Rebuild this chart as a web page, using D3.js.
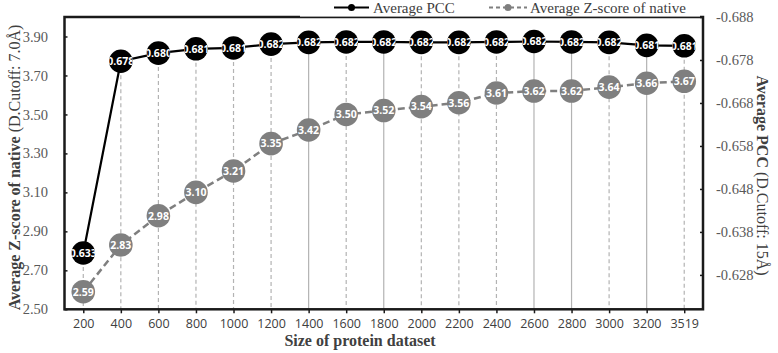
<!DOCTYPE html>
<html><head><meta charset="utf-8">
<script src="https://cdn.jsdelivr.net/npm/d3@7"></script>
<style>body{margin:0;background:#fff}svg{display:block}</style>
</head><body>
<svg id="c" width="778" height="353"></svg>
<script>
const categories = ["200","400","600","800","1000","1200","1400","1600","1800","2000","2200","2400","2600","2800","3000","3200","3519"];
const pccValues = [0.6331,0.6777,0.6796,0.6806,0.6808,0.6817,0.6821,0.6822,0.6822,0.6821,0.6821,0.6822,0.6823,0.6822,0.6821,0.6814,0.6813];
const zValues = [2.59,2.83,2.98,3.10,3.21,3.35,3.42,3.50,3.52,3.54,3.56,3.61,3.62,3.62,3.64,3.66,3.67];
const zTicks = [2.50,2.70,2.90,3.10,3.30,3.50,3.70,3.90];
const pccTicks = [0.628,0.638,0.648,0.658,0.668,0.678,0.688];
const solidDropCats = ["1400","1800","2600","2800","3200"];

const svg = d3.select("#c");
const L = 64.5, R = 703, T = 17, B = 309.3;
const x = d3.scalePoint().domain(categories).range([L, R]).padding(0.5);
const yZ = d3.scaleLinear().domain([2.5, 4.0]).range([B, T]);
const yP = d3.scaleLinear().domain([0.62, 0.688]).range([B, T]);
const serif = "'Liberation Serif','Times New Roman',serif";
const sans = "'Open Sans','DejaVu Sans',sans-serif";

// drop lines
const drops = svg.append("g");
categories.forEach((c, i) => {
  const top = Math.min(yP(pccValues[i]), yZ(zValues[i]));
  drops.append("line").attr("x1", x(c)).attr("x2", x(c)).attr("y1", top).attr("y2", B)
    .attr("stroke", "#b3b3b3").attr("stroke-width", 1.2)
    .attr("stroke-dasharray", solidDropCats.includes(c) ? null : "4,3");
});

// axes
const axisColor = "#1a1a1a";
const gL = svg.append("g").attr("transform", `translate(${L},0)`)
  .call(d3.axisRight(yZ).tickValues(zTicks).tickSize(3).tickFormat(""));
gL.select(".domain").remove();
gL.selectAll("line").attr("stroke", axisColor).attr("stroke-width", 1.5);
svg.append("g").selectAll("text").data(zTicks).join("text")
  .attr("x", 48).attr("y", d => yZ(d)).attr("dy", "0.35em").attr("text-anchor", "end")
  .attr("font-family", serif).attr("font-size", 14.5).attr("fill", "#595959")
  .text(d => d3.format(".2f")(d));

const gR = svg.append("g").attr("transform", `translate(${R},0)`)
  .call(d3.axisLeft(yP).tickValues(pccTicks).tickSize(3).tickFormat(""));
gR.select(".domain").remove();
gR.selectAll("line").attr("stroke", axisColor).attr("stroke-width", 1.5);
svg.append("g").selectAll("text").data(pccTicks).join("text")
  .attr("x", 716).attr("y", d => yP(d)).attr("dy", "0.35em").attr("text-anchor", "start")
  .attr("font-family", serif).attr("font-size", 14.5).attr("fill", "#595959")
  .text(d => "-" + d3.format(".3f")(d));

const gB = svg.append("g").attr("transform", `translate(0,${B})`)
  .call(d3.axisBottom(x).tickSize(4).tickSizeOuter(0).tickPadding(6));
gB.select(".domain").remove();
gB.selectAll("line").attr("stroke", axisColor).attr("stroke-width", 1.5);
gB.selectAll("text").attr("font-family", sans).attr("font-size", 12.5).attr("fill", "#404040");

// frame
svg.append("rect").attr("x", L).attr("y", T).attr("width", R - L).attr("height", B - T)
  .attr("fill", "none").attr("stroke", axisColor).attr("stroke-width", 2.5);

// lines
svg.append("path").datum(zValues)
  .attr("d", d3.line().x((d, i) => x(categories[i])).y(d => yZ(d)))
  .attr("fill", "none").attr("stroke", "#7f7f7f").attr("stroke-width", 2.5).attr("stroke-dasharray", "7,4");
svg.append("path").datum(pccValues)
  .attr("d", d3.line().x((d, i) => x(categories[i])).y(d => yP(d)))
  .attr("fill", "none").attr("stroke", "#000").attr("stroke-width", 2.2);

// markers with clipped labels
const defs = svg.append("defs");
const r = 11.8;
function markers(vals, yS, fill, fmt, key) {
  vals.forEach((v, i) => {
    const cx = x(categories[i]), cy = yS(v);
    const id = `clip-${key}-${i}`;
    defs.append("clipPath").attr("id", id).append("circle").attr("cx", cx).attr("cy", cy).attr("r", r);
    svg.append("circle").attr("cx", cx).attr("cy", cy).attr("r", r).attr("fill", fill);
    svg.append("text").attr("clip-path", `url(#${id})`)
      .attr("x", cx).attr("y", cy).attr("dy", "0.36em").attr("text-anchor", "middle")
      .attr("font-family", sans).attr("font-weight", "bold").attr("font-size", 10.5).attr("fill", "#fff")
      .text(fmt(v));
  });
}
markers(zValues, yZ, "#7f7f7f", d3.format(".2f"), "z");
markers(pccValues, yP, "#000", d3.format(".3f"), "p");

// legend
svg.append("rect").attr("x", 300).attr("y", 0).attr("width", 400).attr("height", 16.6).attr("fill", "#fff");
const ly = 7.5;
svg.append("line").attr("x1", 334).attr("x2", 369).attr("y1", ly).attr("y2", ly).attr("stroke", "#000").attr("stroke-width", 2);
svg.append("circle").attr("cx", 351.5).attr("cy", ly).attr("r", 3.5).attr("fill", "#000");
svg.append("text").attr("x", 373).attr("y", ly).attr("dy", "0.35em")
  .attr("font-family", serif).attr("font-size", 15).attr("fill", "#404040").text("Average PCC");
svg.append("line").attr("x1", 489).attr("x2", 527).attr("y1", ly).attr("y2", ly).attr("stroke", "#7f7f7f").attr("stroke-width", 2).attr("stroke-dasharray", "4,3");
svg.append("circle").attr("cx", 508).attr("cy", ly).attr("r", 3.5).attr("fill", "#7f7f7f");
svg.append("text").attr("x", 530).attr("y", ly).attr("dy", "0.35em")
  .attr("font-family", serif).attr("font-size", 15).attr("fill", "#404040").text("Average Z-score of native");

// axis titles
const lt = svg.append("text").attr("transform", "translate(14,167.5) rotate(-90)").attr("text-anchor", "middle")
  .attr("dy", "0.35em").attr("font-family", serif).attr("font-size", 16).attr("fill", "#404040");
lt.append("tspan").attr("font-weight", "bold").text("Average Z-score of native ");
lt.append("tspan").text("(D.Cutoff: 7.0Å)");
const rt = svg.append("text").attr("transform", "translate(763,175.5) rotate(90)").attr("text-anchor", "middle")
  .attr("dy", "0.35em").attr("font-family", serif).attr("font-size", 16).attr("fill", "#404040");
rt.append("tspan").attr("font-weight", "bold").text("Average PCC ");
rt.append("tspan").text("(D.Cutoff: 15Å)");
svg.append("text").attr("x", 360).attr("y", 346).attr("text-anchor", "middle")
  .attr("font-family", serif).attr("font-weight", "bold").attr("font-size", 16).attr("fill", "#404040")
  .text("Size of protein dataset");
</script>
</body></html>
